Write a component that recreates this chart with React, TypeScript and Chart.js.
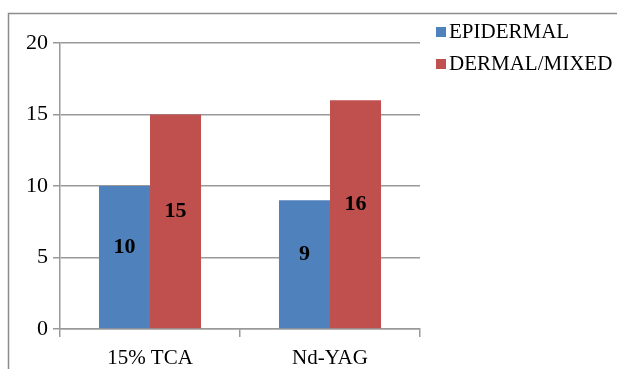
import React, { useEffect, useRef } from "react";
import { Chart, registerables } from "chart.js";

Chart.register(...registerables);

const categories = ["15% TCA", "Nd-YAG"];
const seriesNames = ["EPIDERMAL", "DERMAL/MIXED"];
const epidermal = [10, 9];
const dermalMixed = [15, 16];
const yTicks = [0, 5, 10, 15, 20];
const colors = ["#4F81BD", "#C0504D"];

const FONT = "'Liberation Serif', 'Times New Roman', serif";

const framePlugin = {
  id: "frame",
  beforeDraw(chart: any) {
    const ctx = chart.ctx;
    ctx.save();
    ctx.fillStyle = "#ffffff";
    ctx.fillRect(0, 0, chart.width, chart.height);
    ctx.strokeStyle = "#8c8c8c";
    ctx.lineWidth = 1.5;
    ctx.beginPath();
    ctx.moveTo(8.5, chart.height + 5);
    ctx.lineTo(8.5, 13.5);
    ctx.lineTo(chart.width + 5, 13.5);
    ctx.stroke();
    ctx.restore();
  },
};

const labelPlugin = {
  id: "barLabels",
  afterDatasetsDraw(chart: any) {
    const ctx = chart.ctx;
    ctx.save();
    ctx.font = `bold 22px ${FONT}`;
    ctx.fillStyle = "#000";
    ctx.textAlign = "center";
    ctx.textBaseline = "middle";
    chart.data.datasets.forEach((ds: any, i: number) => {
      const meta = chart.getDatasetMeta(i);
      meta.data.forEach((bar: any, j: number) => {
        const cy = (bar.y + bar.base) / 2 - 10;
        ctx.fillText(String(ds.data[j]), bar.x, cy);
      });
    });
    ctx.restore();
  },
};

const legendPlugin = {
  id: "customLegend",
  afterDraw(chart: any) {
    const ctx = chart.ctx;
    ctx.save();
    ctx.font = `21px ${FONT}`;
    ctx.textBaseline = "middle";
    ctx.textAlign = "left";
    chart.data.datasets.forEach((ds: any, i: number) => {
      const y = 32 + i * 32;
      ctx.fillStyle = ds.backgroundColor;
      ctx.fillRect(436, y - 5, 10, 10);
      ctx.fillStyle = "#000";
      ctx.fillText(ds.label, 449, y);
    });
    ctx.restore();
  },
};

export default function App() {
  const ref = useRef<HTMLCanvasElement>(null);
  useEffect(() => {
    if (!ref.current) return;
    const chart = new Chart(ref.current, {
      type: "bar",
      data: {
        labels: categories,
        datasets: [
          { label: seriesNames[0], data: epidermal, backgroundColor: colors[0] },
          { label: seriesNames[1], data: dermalMixed, backgroundColor: colors[1] },
        ],
      },
      options: {
        responsive: false,
        animation: false,
        layout: { padding: { left: 0, top: 43, right: 197, bottom: 0 } },
        plugins: { legend: { display: false }, tooltip: { enabled: false } },
        datasets: { bar: { categoryPercentage: 0.567, barPercentage: 1 } },
        scales: {
          x: {
            grid: {
              offset: true,
              drawOnChartArea: false,
              color: "#999",
              tickLength: 8,
              lineWidth: 1.5,
            },
            border: { color: "#999", width: 1.5 },
            ticks: { font: { family: FONT, size: 21 }, color: "#000", padding: 9 },
            afterFit(scale: any) {
              scale.height = 40;
            },
          },
          y: {
            min: 0,
            max: 20,
            afterBuildTicks(scale: any) {
              scale.ticks = yTicks.map((v) => ({ value: v }));
            },
            grid: { color: "#999", tickLength: 7, lineWidth: 1.5 },
            border: { color: "#999", width: 1.5 },
            ticks: { font: { family: FONT, size: 22 }, color: "#000", padding: 5 },
            afterFit(scale: any) {
              scale.width = 60;
            },
          },
        },
      },
      plugins: [framePlugin, labelPlugin, legendPlugin],
    });
    return () => chart.destroy();
  }, []);
  return (
    <div style={{ position: "fixed", left: 0, top: 0 }}>
      <canvas ref={ref} width={617} height={369} />
    </div>
  );
}
